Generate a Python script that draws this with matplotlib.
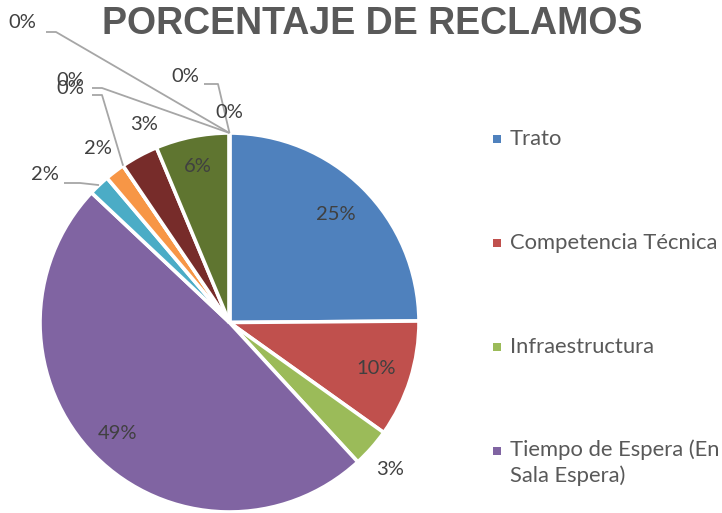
import matplotlib
matplotlib.use("Agg")
import matplotlib.pyplot as plt
import numpy as np

# ---- data ----
categories = ["Trato", "Competencia Técnica", "Infraestructura",
              "Tiempo de Espera (En Sala Espera)", "Cat5", "Cat6", "Cat7",
              "Cat8", "Cat9", "Cat10", "Cat11", "Cat12", "Cat13"]
values = [24.9, 10.0, 3.3, 48.9, 1.8, 1.7, 0.0, 3.2, 6.3, 0.0, 0.0, 0.0, 0.0]
colors = ["#4F81BD", "#C0504D", "#9BBB59", "#8064A2", "#4BACC6", "#F79646",
          "#2C4D75", "#772C2A", "#5F7530", "#4D3B62", "#276A7C", "#B65708",
          "#729ACA"]
legend_labels = ["Trato", "Competencia Técnica", "Infraestructura",
                 "Tiempo de Espera (En\nSala Espera)"]
title = "PORCENTAJE DE RECLAMOS"

W, H = 722, 513
fig = plt.figure(figsize=(W / 100, H / 100), dpi=100)
ax = fig.add_axes([0, 0, 1, 1])
ax.set_xlim(0, W)
ax.set_ylim(0, H)
ax.set_aspect("equal")
ax.axis("off")

cx, cy, R = 229.5, H - 322.5, 189.5
wedges, _ = ax.pie(values, colors=colors, startangle=90, counterclock=False,
                   center=(cx, cy), radius=R, normalize=True,
                   wedgeprops=dict(edgecolor="white", linewidth=2.6))
ax.set_xlim(0, W)
ax.set_ylim(0, H)

total = sum(values)
pct = [f"{round(v / total * 100):.0f}%" for v in values]

lab_font = dict(family=["Lato", "DejaVu Sans"], fontsize=14.5, color="#404040")
lead_col = "#A6A6A6"

# label layout: ('in', rfac) | ('out', rfac, dangle) | ('lead', text_px, elbow_px)
layout = {
    0: ("in", 0.80),
    1: ("in", 0.81),
    2: ("out", 1.15, -1),
    3: ("in", 0.83),
    4: ("lead", (45, 175), [(64, 183), (80, 183)]),
    5: ("out", 1.15, 0),
    6: ("lead", (70, 88), [(92, 95), (102, 95)]),
    7: ("out", 1.14, -5),
    8: ("in", 0.84),
    9: ("free", (229, 112)),
    10: ("lead", (185, 77), [(204, 84), (218, 84)]),
    11: ("lead", (70, 81), [(92, 88), (102, 88)]),
    12: ("lead", (22, 22), [(46, 32), (56, 32)]),
}

for i, w in enumerate(wedges):
    mid = np.deg2rad((w.theta1 + w.theta2) / 2)
    spec = layout[i]
    if spec[0] == "in":
        x, y = cx + spec[1] * R * np.cos(mid), cy + spec[1] * R * np.sin(mid)
    elif spec[0] == "out":
        a = mid + np.deg2rad(spec[2])
        x, y = cx + spec[1] * R * np.cos(a), cy + spec[1] * R * np.sin(a)
    elif spec[0] == "free":
        x, y = spec[1][0], H - spec[1][1]
    else:
        x, y = spec[1][0], H - spec[1][1]
        px = [p[0] for p in spec[2]] + [cx + R * np.cos(mid)]
        py = [H - p[1] for p in spec[2]] + [cy + R * np.sin(mid)]
        ax.plot(px, py, color=lead_col, lw=1.3, solid_capstyle="butt", zorder=1)
    ax.text(x, y, pct[i], ha="center", va="center", zorder=5, **lab_font)

# title
ax.text(372, H - 24, title, ha="center", va="center",
        family=["Liberation Sans", "DejaVu Sans"], fontweight="bold",
        fontsize=27, color="#595959")

# legend (first four entries visible)
leg_y = [139, 243, 347, 451]
for lab, col, yy in zip(legend_labels, colors, leg_y):
    ax.add_patch(plt.Rectangle((493, H - yy - 4), 8, 8, color=col, lw=0))
    if "\n" in lab:
        ax.text(510, H - yy + 12, lab, ha="left", va="top",
                family=["Lato", "DejaVu Sans"], fontsize=15.8, color="#595959",
                linespacing=1.35)
    else:
        ax.text(510, H - yy, lab, ha="left", va="center",
                family=["Lato", "DejaVu Sans"], fontsize=15.8, color="#595959")

fig.savefig("out.png", dpi=100)
